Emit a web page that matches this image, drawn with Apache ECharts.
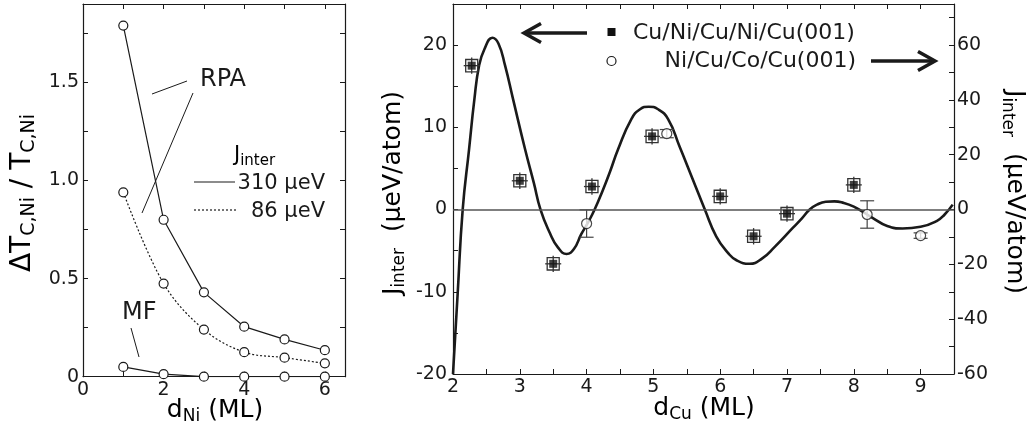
<!DOCTYPE html>
<html>
<head>
<meta charset="utf-8">
<title>Interlayer exchange coupling</title>
<script src="https://cdn.jsdelivr.net/npm/echarts@6/dist/echarts.min.js"></script>
<style>
  html, body { margin: 0; padding: 0; background: #fff; }
  #chart { width: 1033px; height: 435px; }
</style>
</head>
<body>
<div id="chart"></div>
<script>
// ---- Left panel: relative Curie temperature shift vs Ni thickness ----
const dNi = [1, 2, 3, 4, 5, 6];
const rpa310 = [1.79, 0.80, 0.43, 0.255, 0.19, 0.135];
const rpa86 = [0.94, 0.475, 0.24, 0.125, 0.097, 0.068];
const mfVals = [0.05, 0.013, 0.0, 0.0, 0.0, 0.0];

// ---- Right panel: theoretical J_inter curve vs Cu spacer thickness ----
const curveX = [2.00, 2.07, 2.145, 2.24, 2.32, 2.39, 2.47, 2.59, 2.68, 2.78, 2.90, 3.08, 3.21, 3.31, 3.45, 3.57, 3.70, 3.81, 3.92, 4.02, 4.12, 4.24, 4.35, 4.47, 4.67, 4.80, 4.93, 5.07, 5.22, 5.39, 5.59, 5.77, 5.94, 6.12, 6.25, 6.44, 6.62, 6.82, 7.09, 7.22, 7.34, 7.45, 7.58, 7.71, 7.85, 8.00, 8.15, 8.28, 8.50, 8.73, 9.00, 9.24, 9.36, 9.48];
const curveY = [-20.0, -10.2, 0.0, 7.3, 13.4, 17.5, 19.5, 20.9, 20.2, 17.5, 13.4, 7.3, 3.25, 0.0, -2.85, -4.6, -5.4, -4.8, -3.0, -1.6, 0.0, 2.3, 4.6, 7.3, 11.0, 12.2, 12.5, 12.2, 11.0, 7.7, 3.66, 0.0, -3.25, -5.3, -6.2, -6.6, -6.0, -4.5, -2.2, -1.1, 0.0, 0.6, 0.95, 1.0, 0.8, 0.35, -0.35, -1.0, -2.0, -2.3, -2.1, -1.4, -0.6, 0.6];

// Cu/Ni/Cu/Ni/Cu(001) measurements (left axis)
const sqX = [2.28, 3.0, 3.5, 4.08, 4.98, 6.0, 6.5, 7.0, 8.0];
const sqY = [17.5, 3.5, -6.6, 2.8, 8.9, 1.6, -3.25, -0.5, 3.0];
const sqErrX = 0.09;
const sqErrY = 0.75;

// Ni/Cu/Co/Cu(001) measurements (right axis)
const ciX = [4.0, 5.2, 8.2, 9.0];
const ciY = [-5.1, 27.7, -1.8, -9.5];
const ciErr = [5.0, 1.5, 5.0, 1.0];

const FONT = 'DejaVu Sans';
const INK = '#1a1a1a';

const zip = (xs, ys) => xs.map((x, i) => [x, ys[i]]);

function frameAxis(opts) {
  return Object.assign({
    type: 'value',
    axisLine: { show: true, onZero: false, lineStyle: { color: INK, width: 1.2 } },
    axisTick: { show: true, inside: true, length: 5, lineStyle: { color: INK, width: 1 } },
    splitLine: { show: false },
    axisLabel: { show: false }
  }, opts);
}

const tickLabel = (fmt, margin) => ({
  show: true, formatter: fmt, color: INK, fontSize: 19, fontFamily: FONT, margin: margin
});

// error box plus cross-hair bars around each filled square
function squareErrItem(params, api) {
  const x = api.value(0), y = api.value(1);
  const c = api.coord([x, y]);
  const lo = api.coord([x - sqErrX, y - sqErrY]);
  const hi = api.coord([x + sqErrX, y + sqErrY]);
  const st = { stroke: '#333', lineWidth: 1.3, fill: null };
  return {
    type: 'group',
    children: [
      { type: 'rect', shape: { x: lo[0], y: hi[1], width: hi[0] - lo[0], height: lo[1] - hi[1] }, style: st },
      { type: 'line', shape: { x1: c[0], y1: hi[1] - 2, x2: c[0], y2: lo[1] + 2 }, style: st },
      { type: 'line', shape: { x1: lo[0] - 2, y1: c[1], x2: hi[0] + 2, y2: c[1] }, style: st }
    ]
  };
}

// capped vertical error bar for the open circles
function circleErrItem(params, api) {
  const x = api.value(0), y = api.value(1), e = api.value(2);
  const top = api.coord([x, y + e]);
  const bot = api.coord([x, y - e]);
  const st = { stroke: '#444', lineWidth: 1.2 };
  return {
    type: 'group',
    children: [
      { type: 'line', shape: { x1: top[0], y1: top[1], x2: bot[0], y2: bot[1] }, style: st },
      { type: 'line', shape: { x1: top[0] - 7, y1: top[1], x2: top[0] + 7, y2: top[1] }, style: st },
      { type: 'line', shape: { x1: bot[0] - 7, y1: bot[1], x2: bot[0] + 7, y2: bot[1] }, style: st }
    ]
  };
}

const openCircle = { color: '#fff', borderColor: INK, borderWidth: 1.2 };

const titleRich = {
  m: { fontSize: 25, fontFamily: FONT, color: INK, lineHeight: 30 },
  s: { fontSize: 17, fontFamily: FONT, color: INK, lineHeight: 17, verticalAlign: 'bottom' }
};
const bigTitleRich = {
  m: { fontSize: 28, fontFamily: FONT, color: INK, lineHeight: 32 },
  s: { fontSize: 19, fontFamily: FONT, color: INK, lineHeight: 19, verticalAlign: 'bottom' }
};
const smallRich = {
  m: { fontSize: 21, fontFamily: FONT, color: INK, lineHeight: 26 },
  s: { fontSize: 15, fontFamily: FONT, color: INK, lineHeight: 15, verticalAlign: 'bottom' }
};

const chart = echarts.init(document.getElementById('chart'), null, { renderer: 'canvas' });

chart.setOption({
  animation: false,
  backgroundColor: '#fff',
  grid: [
    { left: 83, top: 4, width: 262, height: 372.7 },
    { left: 453, top: 4, width: 501, height: 370 }
  ],
  xAxis: [
    frameAxis({ gridIndex: 0, position: 'bottom', min: 0, max: 6.5, interval: 1,
      axisLabel: tickLabel(v => (v % 2 === 0 ? String(v) : ''), 4) }),
    frameAxis({ gridIndex: 0, position: 'top', min: 0, max: 6.5, interval: 1 }),
    frameAxis({ gridIndex: 1, position: 'bottom', min: 2, max: 9.5, interval: 0.5,
      axisLabel: tickLabel(v => (v % 1 === 0 ? String(v) : ''), 4) }),
    frameAxis({ gridIndex: 1, position: 'top', min: 2, max: 9.5, interval: 0.5 })
  ],
  yAxis: [
    frameAxis({ gridIndex: 0, position: 'left', min: 0, max: 1.9, interval: 0.25,
      axisLabel: tickLabel(v => (v % 0.5 === 0 ? (v === 0 ? '0' : v.toFixed(1)) : ''), 4) }),
    frameAxis({ gridIndex: 0, position: 'right', min: 0, max: 1.9, interval: 0.25 }),
    frameAxis({ gridIndex: 1, position: 'left', min: -20, max: 25, interval: 5,
      axisLabel: tickLabel(v => (v % 10 === 0 ? String(v) : ''), 6) }),
    frameAxis({ gridIndex: 1, position: 'right', min: -60, max: 75, interval: 10,
      axisLabel: tickLabel(v => (v % 20 === 0 ? String(v) : ''), 3) })
  ],
  series: [
    {
      name: 'RPA 310', type: 'line', xAxisIndex: 0, yAxisIndex: 0,
      data: zip(dNi, rpa310), symbol: 'circle', symbolSize: 9,
      itemStyle: openCircle, lineStyle: { color: INK, width: 1.2 }, z: 3
    },
    {
      name: 'RPA 86', type: 'line', xAxisIndex: 0, yAxisIndex: 0, smooth: 0.35,
      data: zip(dNi, rpa86), symbol: 'circle', symbolSize: 9,
      itemStyle: openCircle, lineStyle: { color: INK, width: 1.2, type: [2, 2] }, z: 3
    },
    {
      name: 'MF', type: 'line', xAxisIndex: 0, yAxisIndex: 0,
      data: zip(dNi, mfVals), symbol: 'circle', symbolSize: 9,
      itemStyle: openCircle, lineStyle: { color: INK, width: 1.2 }, z: 3
    },
    {
      name: 'theory', type: 'line', xAxisIndex: 2, yAxisIndex: 2, smooth: 0.5,
      data: zip(curveX, curveY), showSymbol: false, symbol: 'none',
      lineStyle: { color: INK, width: 2.6 }, z: 3,
      markLine: {
        silent: true, symbol: 'none', label: { show: false },
        lineStyle: { color: '#555', width: 1.5, type: 'solid' },
        data: [{ yAxis: 0 }]
      }
    },
    {
      name: 'Cu/Ni/Cu/Ni/Cu(001) err', type: 'custom', xAxisIndex: 2, yAxisIndex: 2,
      data: zip(sqX, sqY), renderItem: squareErrItem, z: 4
    },
    {
      name: 'Cu/Ni/Cu/Ni/Cu(001)', type: 'scatter', xAxisIndex: 2, yAxisIndex: 2,
      data: zip(sqX, sqY), symbol: 'rect', symbolSize: 8,
      itemStyle: { color: '#111' }, z: 5
    },
    {
      name: 'Ni/Cu/Co/Cu(001) err', type: 'custom', xAxisIndex: 2, yAxisIndex: 3,
      data: ciX.map((x, i) => [x, ciY[i], ciErr[i]]), renderItem: circleErrItem, z: 4
    },
    {
      name: 'Ni/Cu/Co/Cu(001)', type: 'scatter', xAxisIndex: 2, yAxisIndex: 3,
      data: zip(ciX, ciY), symbol: 'circle', symbolSize: 10,
      itemStyle: openCircle, z: 5
    }
  ],
  graphic: [
    // axis titles
    { type: 'text', x: 23, y: 193, rotation: Math.PI / 2,
      style: { text: '{m|ΔT}{s|C,Ni}{m| / T}{s|C,Ni}', rich: bigTitleRich, align: 'center', verticalAlign: 'middle' } },
    { type: 'text', x: 215, y: 410,
      style: { text: '{m|d}{s|Ni}{m| (ML)}', rich: titleRich, align: 'center', verticalAlign: 'middle' } },
    { type: 'text', x: 393, y: 193, rotation: Math.PI / 2,
      style: { text: '{m|J}{s|inter}{m|  (μeV/atom)}', rich: titleRich, align: 'center', verticalAlign: 'middle' } },
    { type: 'text', x: 1014, y: 192, rotation: -Math.PI / 2,
      style: { text: '{m|J}{s|inter}{m|  (μeV/atom)}', rich: titleRich, align: 'center', verticalAlign: 'middle' } },
    { type: 'text', x: 704, y: 408,
      style: { text: '{m|d}{s|Cu}{m| (ML)}', rich: titleRich, align: 'center', verticalAlign: 'middle' } },

    // left panel annotations
    { type: 'text', x: 200, y: 80, style: { text: 'RPA', fontSize: 24, fontFamily: FONT, fill: INK, align: 'left', verticalAlign: 'middle' } },
    { type: 'line', shape: { x1: 152, y1: 94, x2: 187, y2: 81 }, style: { stroke: INK, lineWidth: 1 } },
    { type: 'line', shape: { x1: 193, y1: 93, x2: 142, y2: 213 }, style: { stroke: INK, lineWidth: 1 } },
    { type: 'text', x: 122, y: 313, style: { text: 'MF', fontSize: 24, fontFamily: FONT, fill: INK, align: 'left', verticalAlign: 'middle' } },
    { type: 'line', shape: { x1: 131, y1: 328, x2: 139, y2: 357 }, style: { stroke: INK, lineWidth: 1 } },

    { type: 'text', x: 234, y: 156,
      style: { text: '{m|J}{s|inter}', rich: smallRich, align: 'left', verticalAlign: 'middle' } },
    { type: 'line', shape: { x1: 194, y1: 182, x2: 235, y2: 182 }, style: { stroke: INK, lineWidth: 1.2 } },
    { type: 'text', x: 325, y: 184, style: { text: '310 μeV', fontSize: 21, fontFamily: FONT, fill: INK, align: 'right', verticalAlign: 'middle' } },
    { type: 'line', shape: { x1: 194, y1: 210, x2: 237, y2: 210 }, style: { stroke: INK, lineWidth: 1.2, lineDash: [2, 2] } },
    { type: 'text', x: 325, y: 212, style: { text: '86 μeV', fontSize: 21, fontFamily: FONT, fill: INK, align: 'right', verticalAlign: 'middle' } },

    // right panel legend
    { type: 'rect', shape: { x: 607.5, y: 28, width: 8, height: 8 }, style: { fill: '#111' } },
    { type: 'text', x: 633, y: 33, style: { text: 'Cu/Ni/Cu/Ni/Cu(001)', fontSize: 22, fontFamily: FONT, fill: INK, align: 'left', verticalAlign: 'middle' } },
    { type: 'circle', shape: { cx: 611.5, cy: 61, r: 4.5 }, style: { fill: '#fff', stroke: INK, lineWidth: 1.2 } },
    { type: 'text', x: 856, y: 61, style: { text: 'Ni/Cu/Co/Cu(001)', fontSize: 22, fontFamily: FONT, fill: INK, align: 'right', verticalAlign: 'middle' } },

    // arrows pointing to the matching axis
    { type: 'line', shape: { x1: 526, y1: 33, x2: 587, y2: 33 }, style: { stroke: INK, lineWidth: 3.5 } },
    { type: 'polyline', shape: { points: [[541, 23.5], [524, 33], [541, 42.5]] }, style: { stroke: INK, lineWidth: 3.5, fill: null } },
    { type: 'line', shape: { x1: 871, y1: 61, x2: 933, y2: 61 }, style: { stroke: INK, lineWidth: 3.5 } },
    { type: 'polyline', shape: { points: [[918, 51.5], [935, 61], [918, 70.5]] }, style: { stroke: INK, lineWidth: 3.5, fill: null } }
  ]
});
</script>
</body>
</html>
